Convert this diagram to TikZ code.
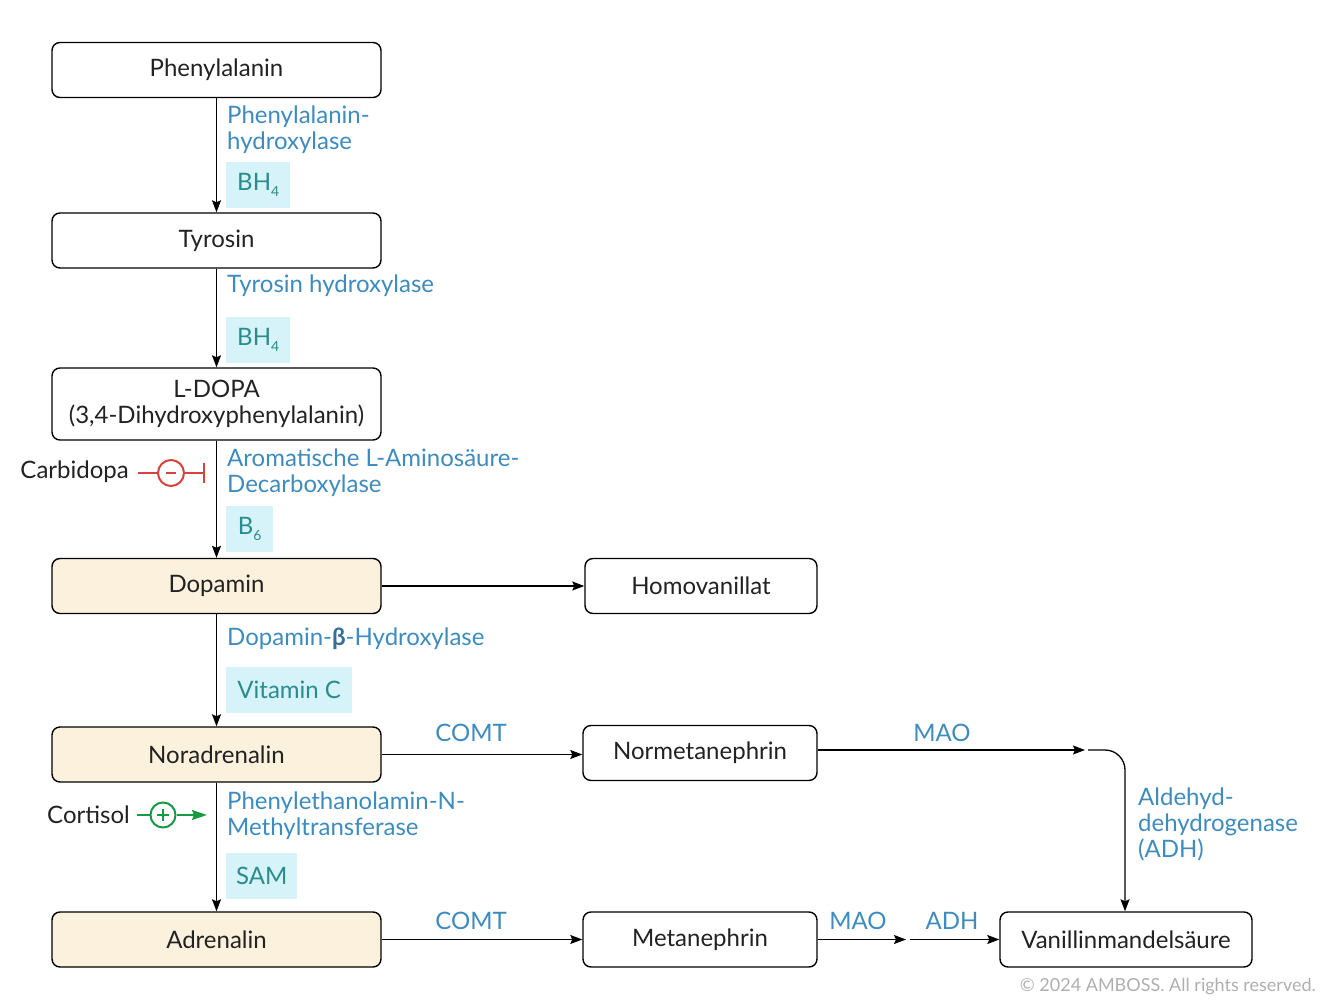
\documentclass[tikz,border=0pt]{standalone}
\usepackage{fontspec}
\setmainfont{Lato}
\usetikzlibrary{arrows.meta}
\definecolor{lblue}{HTML}{3E8BBE}
\definecolor{teal2}{HTML}{2A8C8C}
\definecolor{cyanbg}{HTML}{D5F3F8}
\definecolor{cream}{HTML}{FCF1DC}
\definecolor{inhred}{HTML}{D9413B}
\definecolor{actgreen}{HTML}{189A45}
\definecolor{copygray}{HTML}{AFAFAF}
\definecolor{txt}{HTML}{222222}
\newcommand{\subfour}[1]{{\fontsize{14}{14}\selectfont\raisebox{-6pt}{#1}}}
\begin{document}
\begin{tikzpicture}[x=1pt,y=-1pt,
  every node/.style={font=\fontsize{24}{26}\selectfont,text=txt},
  box/.style={draw=black,line width=1.4pt,rounded corners=8pt,minimum width=329pt,minimum height=55pt,inner sep=0pt,align=center},
  rbox/.style={draw=black,line width=1.4pt,rounded corners=8pt,minimum height=55pt,inner sep=0pt,align=center},
  hl/.style={box,fill=cream},
  enz/.style={text=lblue,align=left,anchor=west,inner sep=0pt},
  cof/.style={fill=cyanbg,text=teal2,anchor=north west,inner sep=0pt,minimum height=46pt,align=center},
  arr/.style={line width=1.3pt,-{Stealth[length=12pt,width=9pt,inset=2pt]}},
  elab/.style={text=lblue,inner sep=0pt}
]
\useasboundingbox (0,0) rectangle (1323,1000);

% main boxes
\node[box] (phe) at (216.5,70) {Phenylalanin};
\node[box] (tyr) at (216.5,240.5) {Tyrosin};
\node[box,minimum height=72pt] (dopa) at (216.5,404) {L-DOPA\\(3,4-Dihydroxyphenylalanin)};
\node[hl] (dop) at (216.5,586) {Dopamin};
\node[hl] (nor) at (216.5,754.5) {Noradrenalin};
\node[hl] (adr) at (216.5,939.5) {Adrenalin};

\node[rbox,minimum width=232pt] (hom) at (701,586) {Homovanillat};
\node[rbox,minimum width=234pt] (nmn) at (700,753) {Normetanephrin};
\node[rbox,minimum width=234pt] (met) at (700,939.5) {Metanephrin};
\node[rbox,minimum width=252pt] (vma) at (1126,939.5) {Vanillinmandelsäure};

% vertical arrows
\draw[arr] (phe.south) -- (tyr.north);
\draw[arr] (tyr.south) -- (dopa.north);
\draw[arr] (dopa.south) -- (dop.north);
\draw[arr] (dop.south) -- (nor.north);
\draw[arr] (nor.south) -- (adr.north);

% enzymes
\node[enz] (e1) at (227,130) {Phenylalanin-\\hydroxylase};
\node[cof,minimum width=64pt] (c1) at (226,162) {BH\subfour{4}};
\node[enz] (e2) at (227,286) {Tyrosin hydroxylase};
\node[cof,minimum width=64pt] (c2) at (226,317) {BH\subfour{4}};
\node[enz] (e3) at (227,473) {Aromatische L-Aminosäure-\\Decarboxylase};
\node[cof,minimum width=47pt] (c3) at (226,506) {B\subfour{6}};
\node[enz] (e4) at (227,639) {Dopamin-{\color{lblue!80!black}\textbf{β}}-Hydroxylase};
\node[cof,minimum width=126pt] (c4) at (226,667) {Vitamin C};
\node[enz] (e5) at (227,816) {Phenylethanolamin-N-\\Methyltransferase};
\node[cof,minimum width=71pt] (c5) at (226,853) {SAM};

% Carbidopa inhibition
\node[anchor=east,inner sep=0pt] (carb) at (129,472) {Carbidopa};
\coordinate (cbs) at (138,473);
\coordinate (cbe) at (204,473);
\node[circle,draw=inhred,line width=2pt,minimum size=26pt,inner sep=0pt] (cbc) at (171,473) {};
\draw[inhred,line width=2pt] (cbs) -- (cbc.west);
\draw[inhred,line width=2pt] (cbc.east) -- (cbe);
\draw[inhred,line width=2.2pt] ([yshift=-10pt]cbe) -- ([yshift=10pt]cbe);
\draw[inhred,line width=2pt] ([xshift=-5pt]cbc.center) -- ([xshift=5pt]cbc.center);

% Cortisol activation
\node[anchor=east,inner sep=0pt] (cort) at (130,815) {Cortisol};
\coordinate (cos) at (137,815);
\coordinate (coe) at (207,815);
\node[circle,draw=actgreen,line width=2pt,minimum size=25pt,inner sep=0pt] (coc) at (163,815) {};
\draw[actgreen,line width=2pt] (cos) -- (coc.west);
\draw[actgreen,line width=2pt,-{Stealth[length=15pt,width=10pt,inset=2pt]}] (coc.east) -- (coe);
\draw[actgreen,line width=2pt] ([xshift=-6pt]coc.center) -- ([xshift=6pt]coc.center);
\draw[actgreen,line width=2pt] ([yshift=-6pt]coc.center) -- ([yshift=6pt]coc.center);

% horizontal arrows
\draw[arr] (dop.east) -- (hom.west);
\draw[arr] (nor.east) -- (nor.east -| nmn.west);
\node[elab] (l1) at (471,733) {COMT};
\coordinate (m1) at (1085,750);
\coordinate (m2) at (1088,750);
\draw[arr] (nmn.east |- m1) -- (m1);
\node[elab] (l2) at (942,733) {MAO};
\draw[arr,rounded corners=20pt] (m2) -- (1125,750) -- (1125,750 |- vma.north);
\node[enz] (e6) at (1138,824) {Aldehyd-\\dehydrogenase\\(ADH)};

\draw[arr] (adr.east) -- (met.west);
\node[elab] (l3) at (471,921) {COMT};
\coordinate (m3) at (906,939.5);
\coordinate (m4) at (910,939.5);
\draw[arr] (met.east) -- (m3);
\node[elab] (l4) at (858,921) {MAO};
\draw[arr] (m4) -- (vma.west);
\node[elab] (l5) at (952,921) {ADH};

\node[anchor=east,text=copygray,inner sep=0pt,font=\fontsize{18}{20}\selectfont] (copy) at (1316,987) {© 2024 AMBOSS. All rights reserved.};
\end{tikzpicture}
\end{document}
